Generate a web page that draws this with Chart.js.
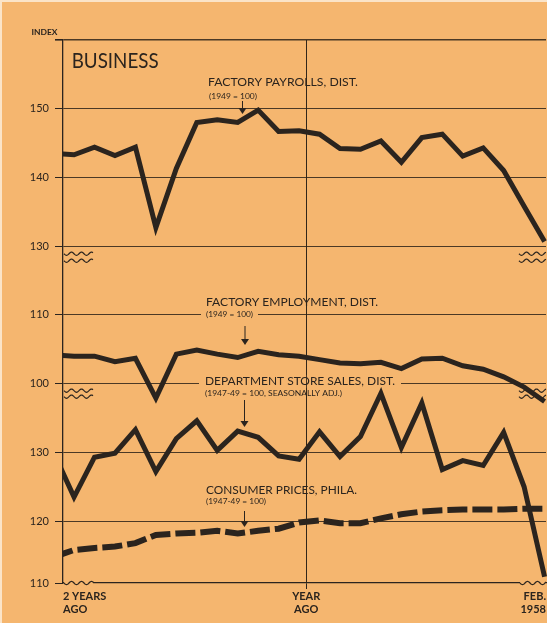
<!DOCTYPE html>
<html>
<head>
<meta charset="utf-8">
<script src="https://cdn.jsdelivr.net/npm/chart.js@4/dist/chart.umd.min.js"></script>
<style>
  html, body { margin: 0; padding: 0; background: #f5b66f; }
  #wrap { width: 547px; height: 623px; }
</style>
</head>
<body>
<div id="wrap"><canvas id="myChart" width="547" height="623"></canvas></div>
<script>
// monthly readings, Feb 1956 .. Feb 1958
let months = ['Feb 1956', 'Mar 1956', 'Apr 1956', 'May 1956', 'Jun 1956', 'Jul 1956', 'Aug 1956',
  'Sep 1956', 'Oct 1956', 'Nov 1956', 'Dec 1956', 'Jan 1957', 'Feb 1957', 'Mar 1957', 'Apr 1957',
  'May 1957', 'Jun 1957', 'Jul 1957', 'Aug 1957', 'Sep 1957', 'Oct 1957', 'Nov 1957', 'Dec 1957',
  'Jan 1958', 'Feb 1958'];

let payrolls = [143.5, 143.3, 144.4, 143.2, 144.4, 132.7, 141.3, 148.0, 148.4, 148.0, 149.8, 146.7,
  146.8, 146.3, 144.2, 144.1, 145.3, 142.2, 145.8, 146.3, 143.1, 144.3, 141.0, 135.8, 130.7];
let employment = [104.2, 104.0, 104.0, 103.2, 103.7, 97.9, 104.3, 104.9, 104.3, 103.8, 104.7, 104.2,
  104.0, 103.5, 103.0, 102.9, 103.1, 102.2, 103.6, 103.7, 102.6, 102.1, 101.0, 99.5, 97.4];
let deptStore = [130.0, 123.5, 129.3, 129.9, 133.3, 127.2, 132.0, 134.6, 130.3, 133.1, 132.2, 129.5,
  129.0, 133.0, 129.4, 132.3, 138.6, 130.7, 137.2, 127.5, 128.8, 128.1, 132.9, 125.0, 111.9];
let consumerPrices = [114.8, 115.8, 116.1, 116.3, 116.8, 118.0, 118.2, 118.3, 118.6, 118.2, 118.6, 118.9,
  119.8, 120.1, 119.7, 119.7, 120.4, 121.0, 121.4, 121.6, 121.7, 121.7, 121.7, 121.8, 121.8];

// broken index axis: upper series are shifted onto one shared scale
let payrollShift = 30;
let employmentShift = 40;

let yTicks = [111, 120, 130, 140, 150, 160, 170, 180, 190];
let yTickLabels = ['110', '120', '130', '100', '110', '130', '140', '150', ''];
let xTicks = [0.46, 12.35, 24.07];
let xTickLabels = [['2 YEARS', 'AGO'], ['YEAR', 'AGO'], ['FEB.', '1958']];

let bg = '#f5b66f';
let ink = '#2b241e';
let gridInk = 'rgba(45,35,25,0.85)';
let face = 'Lato, "Noto Sans", sans-serif';

let toPoints = (vals, shift) => vals.map((v, i) => ({ x: i, y: v + shift }));

let label = (ctx, text, x, y, size, weight, width, box) => {
  ctx.font = `${weight} ${size}px ${face}`;
  let w = ctx.measureText(text).width;
  let sx = width ? width / w : 1;
  if (box) {
    ctx.fillStyle = bg;
    ctx.fillRect(x - box, y - size * 0.6, w * sx + box * 2, size * 1.2);
  }
  ctx.save();
  ctx.translate(x, y);
  ctx.scale(sx, 1);
  ctx.fillStyle = ink;
  ctx.textBaseline = 'middle';
  ctx.textAlign = 'left';
  ctx.fillText(text, 0, 0);
  ctx.restore();
};

let arrow = (ctx, x, y0, y1) => {
  ctx.strokeStyle = ink;
  ctx.fillStyle = ink;
  ctx.lineWidth = 1;
  ctx.beginPath();
  ctx.moveTo(x, y0);
  ctx.lineTo(x, y1 - 4);
  ctx.stroke();
  ctx.beginPath();
  ctx.moveTo(x - 4, y1 - 6);
  ctx.lineTo(x + 4, y1 - 6);
  ctx.lineTo(x, y1);
  ctx.closePath();
  ctx.fill();
};

let wave = (ctx, x0, x1, y, cover) => {
  if (cover) {
    ctx.fillStyle = bg;
    ctx.fillRect(x0, y - 2, x1 - x0, 4);
  }
  ctx.strokeStyle = ink;
  ctx.lineWidth = 1.2;
  ctx.beginPath();
  for (let x = x0; x <= x1; x += 0.5) {
    let yy = y + 1.6 * Math.sin((x - x0) / 10 * Math.PI * 2);
    if (x === x0) ctx.moveTo(x, yy); else ctx.lineTo(x, yy);
  }
  ctx.stroke();
};

let decor = {
  id: 'decor',
  beforeDraw: (chart) => {
    let ctx = chart.ctx;
    ctx.save();
    ctx.fillStyle = bg;
    ctx.fillRect(0, 0, chart.width, chart.height);
    ctx.fillStyle = '#fbe4c8';
    ctx.fillRect(0, 0, chart.width, 2);
    ctx.fillRect(0, 0, 2, chart.height);
    ctx.restore();
  },
  beforeDatasetsDraw: (chart) => {
    let ctx = chart.ctx;
    let xs = chart.scales.x;
    let ys = chart.scales.y;
    let left = chart.chartArea.left;
    let right = chart.chartArea.right;
    ctx.save();

    // scale breaks
    let b1 = ys.getPixelForValue(160);
    let b2 = ys.getPixelForValue(140);
    [b1 + 7.5, b1 + 14.5, b2 + 7, b2 + 13].forEach((y) => {
      wave(ctx, left + 1, left + 30, y, false);
      wave(ctx, right - 27, right, y, false);
    });
    wave(ctx, left + 1, left + 31, ys.bottom, true);
    wave(ctx, right - 26, right, ys.bottom, true);

    // headings
    label(ctx, 'INDEX', 31.5, 33, 7, 'bold', 26, 0);
    label(ctx, 'BUSINESS', 71.7, 61, 21, 'normal', 87, 0);

    label(ctx, 'FACTORY PAYROLLS, DIST.', 208, 82.5, 11, 'normal', 150, 0);
    label(ctx, '(1949 = 100)', 209, 96.5, 7, 'normal', 48, 0);
    arrow(ctx, 242.5, 101, 114);

    label(ctx, 'FACTORY EMPLOYMENT, DIST.', 206, 302, 11, 'normal', 172, 0);
    label(ctx, '(1949 = 100)', 206, 315, 7, 'normal', 47, 5);
    arrow(ctx, 245, 326, 345);

    label(ctx, 'DEPARTMENT STORE SALES, DIST.', 205, 381.5, 11, 'normal', 190, 6);
    label(ctx, '(1947-49 = 100, SEASONALLY ADJ.)', 205, 393.8, 7, 'normal', 137, 0);
    arrow(ctx, 244.5, 400, 427);

    label(ctx, 'CONSUMER PRICES, PHILA.', 206, 490, 11, 'normal', 151, 0);
    label(ctx, '(1947-49 = 100)', 206, 501.5, 7, 'normal', 60, 0);
    arrow(ctx, 244.5, 511, 527);

    // year-ago rule runs through the lettering
    let xm = xs.getPixelForValue(xTicks[1]);
    ctx.strokeStyle = gridInk;
    ctx.lineWidth = 1;
    ctx.beginPath();
    ctx.moveTo(Math.round(xm) + 0.5, ys.top);
    ctx.lineTo(Math.round(xm) + 0.5, ys.bottom);
    ctx.stroke();
    ctx.restore();
  }
};

let lineSet = (data, dash, width) => ({
  data: data,
  borderColor: ink,
  borderWidth: width,
  borderDash: dash,
  borderCapStyle: 'butt',
  borderJoinStyle: 'miter',
  pointRadius: 0,
  tension: 0,
  fill: false,
  clip: { left: 0, top: 5, right: 5, bottom: 0 }
});

let ctx = document.getElementById('myChart').getContext('2d');
let myChart = new Chart(ctx, {
  type: 'line',
  data: {
    labels: months,
    datasets: [
      lineSet(toPoints(payrolls, payrollShift), [], 5),
      lineSet(toPoints(employment, employmentShift), [], 5),
      lineSet(toPoints(deptStore, 0), [], 5),
      lineSet(toPoints(consumerPrices, 0), [20, 5], 6)
    ]
  },
  options: {
    responsive: false,
    animation: false,
    events: [],
    layout: { padding: { top: 40, left: 0, right: 0, bottom: 0 } },
    plugins: { legend: { display: false }, tooltip: { enabled: false } },
    scales: {
      x: {
        type: 'linear',
        min: xTicks[0],
        max: xTicks[2],
        afterBuildTicks: (s) => { s.ticks = xTicks.map((v) => ({ value: v })); },
        afterFit: (s) => { s.height = 40; },
        ticks: {
          autoSkip: false,
          maxRotation: 0,
          align: 'inner',
          padding: 1,
          color: ink,
          font: { family: face, size: 11, weight: 'bold' },
          callback: (v, i) => xTickLabels[i]
        },
        grid: {
          color: (c) => c.index === 1 ? gridInk : 'transparent',
          tickColor: (c) => c.index === 1 ? ink : 'transparent',
          tickLength: 6,
          lineWidth: 1
        },
        border: { display: true, color: ink, width: 1.3 }
      },
      y: {
        type: 'linear',
        min: yTicks[0],
        max: yTicks[yTicks.length - 1],
        afterBuildTicks: (s) => { s.ticks = yTicks.map((v) => ({ value: v })); },
        afterFit: (s) => { s.width = 63; },
        ticks: {
          autoSkip: false,
          padding: 6,
          color: ink,
          font: { family: face, size: 11 },
          callback: (v, i) => yTickLabels[i]
        },
        grid: {
          color: (c) => c.index === 0 ? 'transparent' : gridInk,
          tickColor: ink,
          lineWidth: (c) => c.index === yTicks.length - 1 ? 1.6 : 1,
          tickLength: 8
        },
        border: { display: true, color: ink, width: 1.3 }
      }
    }
  },
  plugins: [decor]
});
</script>
</body>
</html>
